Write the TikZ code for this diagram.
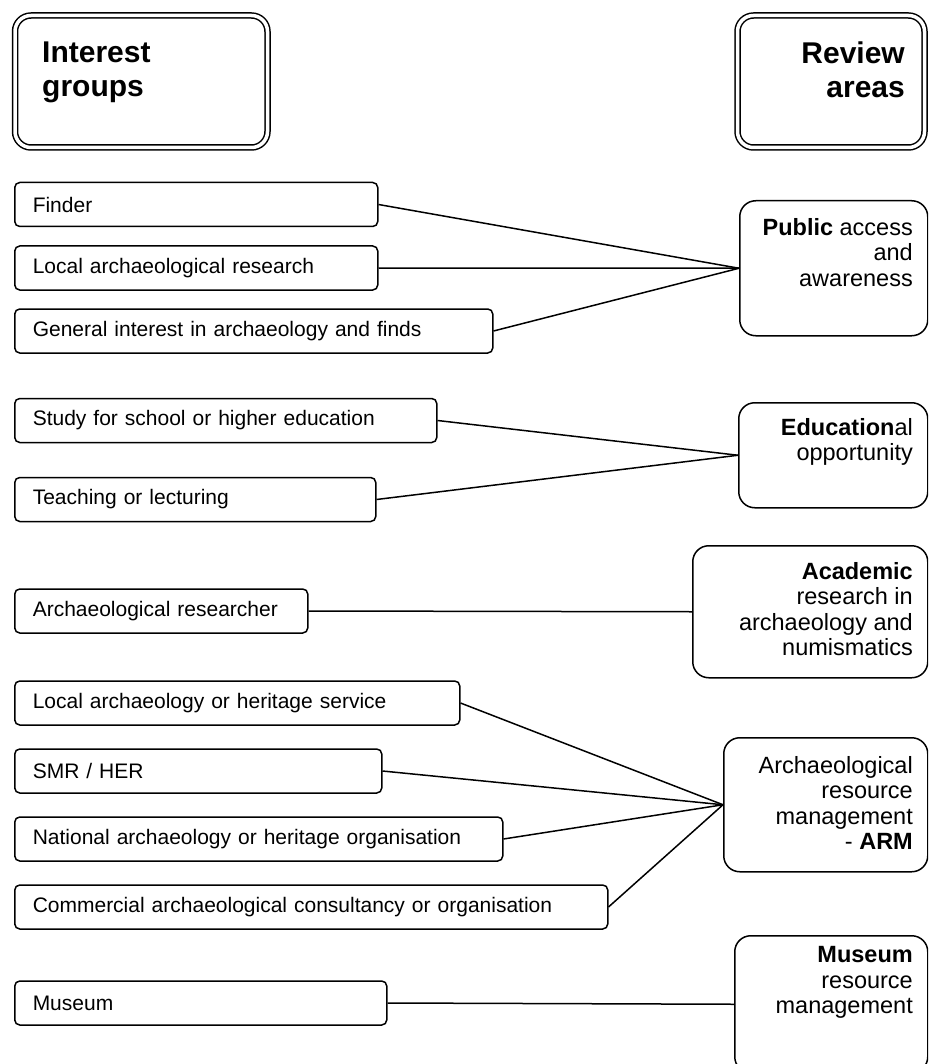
\documentclass[tikz,border=0pt]{standalone}
\usepackage{fontspec}
\setmainfont{Liberation Sans}
\begin{document}
\begin{tikzpicture}[x=1pt,y=-1pt,
  lbox/.style={draw, line width=1.5pt, rounded corners=5pt, anchor=west, minimum height=44pt, inner xsep=18pt, inner ysep=0pt, align=left, font=\fontsize{21}{25}\selectfont},
  rbox/.style={draw, line width=1.5pt, rounded corners=16pt, anchor=north west, inner sep=0pt},
  rtext/.style={anchor=north east, inner sep=0pt, align=right, font=\fontsize{23.5}{25.5}\selectfont},
  head/.style={draw, line width=1.5pt, double, double distance=3.5pt, rounded corners=16pt, inner sep=0pt},
  htext/.style={inner sep=0pt, font=\fontsize{30}{34}\selectfont\bfseries},
  conn/.style={line width=1.5pt}]
\useasboundingbox (0,0) rectangle (928,1064);
\clip (0,0) rectangle (928,1064);

% headers
\node[head, minimum width=252.5pt, minimum height=132pt] (ig) at (141.25,81.5) {};
\node[htext, anchor=north west, align=left] (igt) at (42,41.5) {Interest\\groups};
\node[head, minimum width=187pt, minimum height=132pt] (ra) at (831,81.5) {};
\node[htext, anchor=north east, align=right] (rat) at (905,41.5) {Review\\areas};

% left boxes
\node[lbox, text width=327pt] (finder) at (14,204.5) {Finder};
\node[lbox, text width=327pt] (localres) at (14,268) {Local archaeological research};
\node[lbox, text width=442pt] (general) at (14,331) {General interest in archaeology and finds};
\node[lbox, text width=386pt] (study) at (14,420.5) {Study for school or higher education};
\node[lbox, text width=325pt] (teach) at (14,499.5) {Teaching or lecturing};
\node[lbox, text width=257pt] (archres) at (14,611) {Archaeological researcher};
\node[lbox, text width=409pt] (localserv) at (14,703) {Local archaeology or heritage service};
\node[lbox, text width=331pt] (smr) at (14,771) {SMR / HER};
\node[lbox, text width=452pt] (national) at (14,839) {National archaeology or heritage organisation};
\node[lbox, text width=557pt] (commercial) at (14,907) {Commercial archaeological consultancy or organisation};
\node[lbox, text width=336pt] (museum) at (14,1003) {Museum};

% right boxes
\node[rbox, minimum width=188pt, minimum height=135pt] (pub) at (739,200) {};
\node[rtext] (pubt) at (913,218.2) {\textbf{Public} access\\and\\awareness};
\node[rbox, minimum width=189pt, minimum height=105pt] (edu) at (738,402) {};
\node[rtext] (edut) at (913,418.2) {\textbf{Education}al\\opportunity};
\node[rbox, minimum width=235pt, minimum height=132pt] (acad) at (692,545) {};
\node[rtext] (acadt) at (913,562.2) {\textbf{Academic}\\research in\\archaeology and\\numismatics};
\node[rbox, minimum width=204pt, minimum height=134pt] (arm) at (723,737) {};
\node[rtext] (armt) at (913,756.2) {Archaeological\\resource\\management\\- \textbf{ARM}};
\node[rbox, minimum width=193pt, minimum height=137pt] (mus) at (734,935) {};
\node[rtext] (must) at (913,946.2) {\textbf{Museum}\\resource\\management};

% connectors
\draw[conn] (finder.east) -- (pub.west);
\draw[conn] (localres.east) -- (pub.west);
\draw[conn] (general.east) -- (pub.west);
\draw[conn] (study.east) -- (edu.west);
\draw[conn] (teach.east) -- (edu.west);
\draw[conn] (archres.east) -- (acad.west);
\draw[conn] (localserv.east) -- (arm.west);
\draw[conn] (smr.east) -- (arm.west);
\draw[conn] (national.east) -- (arm.west);
\draw[conn] (commercial.east) -- (arm.west);
\draw[conn] (museum.east) -- (mus.west);
\end{tikzpicture}
\end{document}
